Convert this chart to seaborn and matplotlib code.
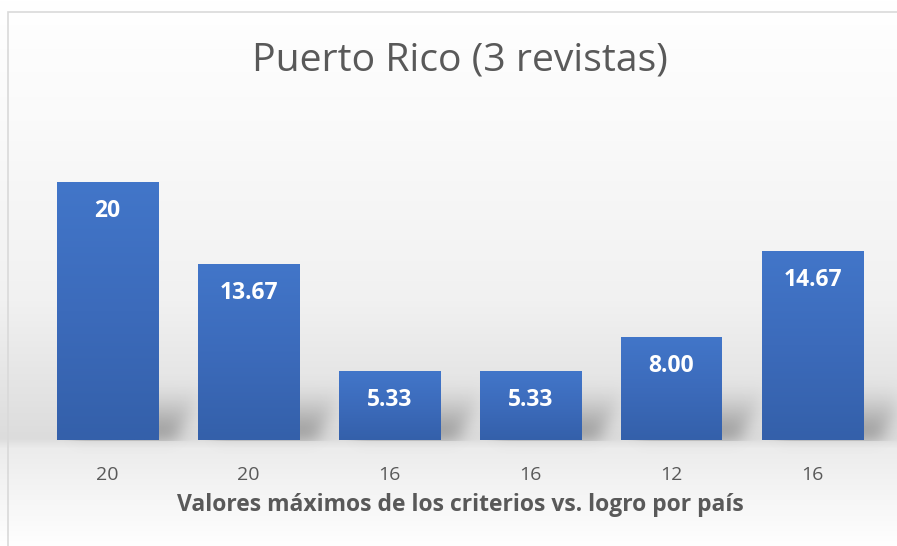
import numpy as np
import pandas as pd
import matplotlib
matplotlib.use("Agg")
import matplotlib.pyplot as plt
import seaborn as sns
from matplotlib.colors import LinearSegmentedColormap, to_rgb
from matplotlib.patches import Rectangle

# ---- data ----
categories = ["A", "B", "C", "D", "E", "F"]
tick_labels = ["20", "20", "16", "16", "12", "16"]
values = [20, 13.67, 5.33, 5.33, 8.00, 14.67]
value_labels = ["20", "13.67", "5.33", "5.33", "8.00", "14.67"]
title = "Puerto Rico (3 revistas)"
xlabel = "Valores máximos de los criterios vs. logro por país"

sns.set_theme(style="white")
plt.rcParams["font.family"] = ["Open Sans", "DejaVu Sans"]

W, H = 897, 546
fig = plt.figure(figsize=(W / 100, H / 100), dpi=100)
fig.patch.set_facecolor("white")

# background axes (pixel coordinates, origin at bottom)
bg = fig.add_axes([0, 0, 1, 1], zorder=-1)
bg.set_xlim(0, W)
bg.set_ylim(0, H)
bg.axis("off")

# vertical background gradient (pixels from top -> color)
stops_px = [0, 120, 300, 400, 438, 448, 546]
stops_c = ["#ffffff", "#fafafa", "#f1f1f1", "#e2e2e2", "#dcdcdc", "#ececec", "#ffffff"]
rows = np.arange(H)
cols = np.array([to_rgb(c) for c in stops_c])
grad = np.stack([np.interp(rows, stops_px, cols[:, k]) for k in range(3)], axis=1)
bgimg = np.repeat(grad[:, None, :], W, axis=1)
bg.imshow(bgimg, extent=[0, W, 0, H], origin="upper", aspect="auto", zorder=0)

# main axes
left_px, right_px, base_px = 37, 883, 440
ymax = 25
px_per_unit = 12.9
top_px = base_px - ymax * px_per_unit
ax = fig.add_axes([left_px / W, (H - base_px) / H, (right_px - left_px) / W,
                   (base_px - top_px) / H])
ax.patch.set_alpha(0)

df = pd.DataFrame({"cat": categories, "val": values})
sns.barplot(data=df, x="cat", y="val", ax=ax, color="#4472c4", width=101 / 141,
            saturation=1, edgecolor="none", linewidth=0)
ax.set_xlim(-0.5, len(categories) - 0.5)
ax.set_ylim(0, ymax)
for s in ax.spines.values():
    s.set_visible(False)
ax.set_yticks([])
ax.set_xticks(range(len(categories)))
ax.set_xticklabels(tick_labels, fontsize=14, color="#595959")
ax.tick_params(axis="x", length=0, pad=19)
ax.set_xlabel(xlabel, fontsize=16.5, fontweight="bold", color="#595959", labelpad=6)
ax.set_ylabel("")

fig.canvas.draw()

# shadows behind bars, built from bar extents
mask = np.zeros((H, W))
for p in ax.patches:
    bb = p.get_window_extent()
    x0, x1 = int(bb.x0), int(bb.x1)
    yb = H - int(round(bb.y0))  # row of base
    hgt = min(55, int(bb.height) - 5)
    for r in range(hgt):
        row = yb - 1 - r
        w = (1 - r / hgt) ** 1.3
        shift = int(r * 0.55)
        mask[row, x0 + 15 + shift: x1 + 18 + shift] = np.maximum(
            mask[row, x0 + 15 + shift: x1 + 18 + shift], w)
k = np.exp(-0.5 * (np.arange(-25, 26) / 8.0) ** 2)
k /= k.sum()
mask = np.apply_along_axis(lambda m: np.convolve(m, k, mode="same"), 1, mask)
mask = np.apply_along_axis(lambda m: np.convolve(m, k, mode="same"), 0, mask)
mask[base_px + 1:, :] *= 0.15
shadow = np.zeros((H, W, 4))
shadow[..., :3] = 0.42
shadow[..., 3] = np.clip(mask * 0.7, 0, 1)
bg.imshow(shadow, extent=[0, W, 0, H], origin="upper", aspect="auto", zorder=1)

# gradient fill on bars
cmap = LinearSegmentedColormap.from_list("bar", ["#3460aa", "#3c6bbb", "#4276c9"])
gimg = np.linspace(0, 1, 256)[:, None]
for p, lab in zip(ax.patches, value_labels):
    x0 = p.get_x()
    w = p.get_width()
    h = p.get_height()
    p.set_facecolor("none")
    im = ax.imshow(gimg, extent=[x0, x0 + w, 0, h], origin="lower", aspect="auto",
                   cmap=cmap, zorder=2)
    im.set_clip_path(p)
    ax.annotate(lab, (x0 + w / 2, h), xytext=(0, -21), textcoords="offset points",
                ha="center", va="center", color="white", fontsize=16.5,
                fontweight="bold", zorder=3)
ax.set_xlim(-0.5, len(categories) - 0.5)
ax.set_ylim(0, ymax)

# title
fig.text(460 / W, 1 - 61 / H, title, ha="center", va="center", fontsize=28.2,
         color="#595959")

# chart frame
bg.add_patch(Rectangle((8, -10), W + 20, H - 12 + 10, fill=False,
                       edgecolor="#d9d9d9", linewidth=1.2, zorder=5))

fig.savefig("out.png", dpi=100)
